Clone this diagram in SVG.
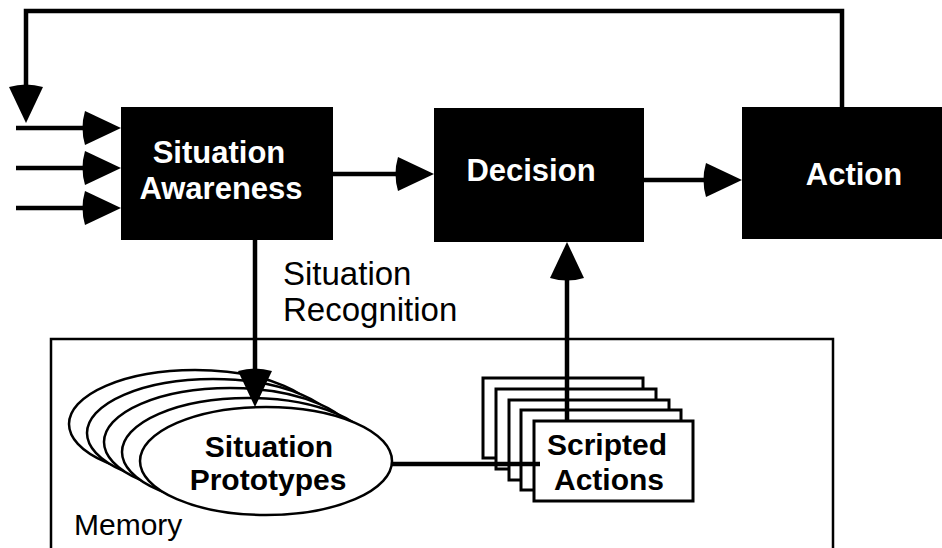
<svg xmlns="http://www.w3.org/2000/svg" width="942" height="548" viewBox="0 0 942 548">
<defs>
<style>
.box{fill:#000}
.wt{fill:#fff;font-family:"Liberation Sans",Arial,sans-serif;font-weight:bold;font-size:31px;text-anchor:middle}
.bt{fill:#000;font-family:"Liberation Sans",Arial,sans-serif;font-weight:bold;font-size:30px;text-anchor:middle}
.lbl{fill:#000;font-family:"Liberation Sans",Arial,sans-serif;font-size:33px}
.mem{fill:#000;font-family:"Liberation Sans",Arial,sans-serif;font-size:30px}
.conn{fill:none;stroke:#000;stroke-width:4.5}
.ell{fill:#fff;stroke:#000;stroke-width:2.5}
.card{fill:#fff;stroke:#000;stroke-width:3}
</style>
<marker id="ah" viewBox="-6 -18 44 36" refX="0" refY="0" markerWidth="44" markerHeight="36" markerUnits="userSpaceOnUse" orient="auto" overflow="visible">
<path d="M36,0 L0,-17 Q-5,0 0,17 Z" fill="#000"/>
</marker>
</defs>
<rect width="942" height="548" fill="#fff"/>

<g id="memory">
<path d="M51,548 V339 H833 V548" fill="none" stroke="#000" stroke-width="2.5"/>
<text class="mem" x="74" y="535">Memory</text>
</g>

<g id="situation-awareness">
<rect class="box" x="121" y="107" width="212" height="133"/>
<text class="wt" x="219" y="163">Situation</text>
<text class="wt" x="221" y="199">Awareness</text>
</g>

<g id="decision">
<rect class="box" x="434" y="108" width="210" height="134"/>
<text class="wt" x="531" y="181">Decision</text>
</g>

<g id="action">
<rect class="box" x="742" y="107" width="200" height="132"/>
<text class="wt" x="854" y="185">Action</text>
</g>

<g id="situation-prototypes">
<ellipse class="ell" cx="195" cy="424" rx="126" ry="54"/>
<ellipse class="ell" cx="213" cy="433" rx="126" ry="54"/>
<ellipse class="ell" cx="230" cy="442" rx="126" ry="54"/>
<ellipse class="ell" cx="248" cy="452" rx="126" ry="54"/>
<ellipse class="ell" cx="266" cy="461" rx="126" ry="54"/>
<text class="bt" x="269" y="457">Situation</text>
<text class="bt" x="268" y="490">Prototypes</text>
</g>

<g id="scripted-actions">
<rect class="card" x="483" y="378" width="160" height="80"/>
<rect class="card" x="496" y="389" width="160" height="80"/>
<rect class="card" x="509" y="400" width="160" height="80"/>
<rect class="card" x="521" y="410" width="160" height="80"/>
<rect class="card" x="534" y="421" width="159" height="80"/>
<text class="bt" x="607" y="455">Scripted</text>
<text class="bt" x="609" y="490">Actions</text>
</g>

<g id="label-recognition">
<text class="lbl" x="283" y="285">Situation</text>
<text class="lbl" x="283" y="321">Recognition</text>
</g>

<g id="connectors">
<path class="conn" d="M842,107 V11 H26 V87" marker-end="url(#ah)"/>
<path class="conn" d="M16,128 H85" marker-end="url(#ah)"/>
<path class="conn" d="M16,168 H85" marker-end="url(#ah)"/>
<path class="conn" d="M16,208 H85" marker-end="url(#ah)"/>
<path class="conn" d="M333,174 H398" marker-end="url(#ah)"/>
<path class="conn" d="M644,180 H706" marker-end="url(#ah)"/>
<path class="conn" d="M255,240 V371" marker-end="url(#ah)"/>
<path class="conn" d="M567,421 V278" marker-end="url(#ah)"/>
<path class="conn" d="M392,464 H540"/>
</g>
</svg>
